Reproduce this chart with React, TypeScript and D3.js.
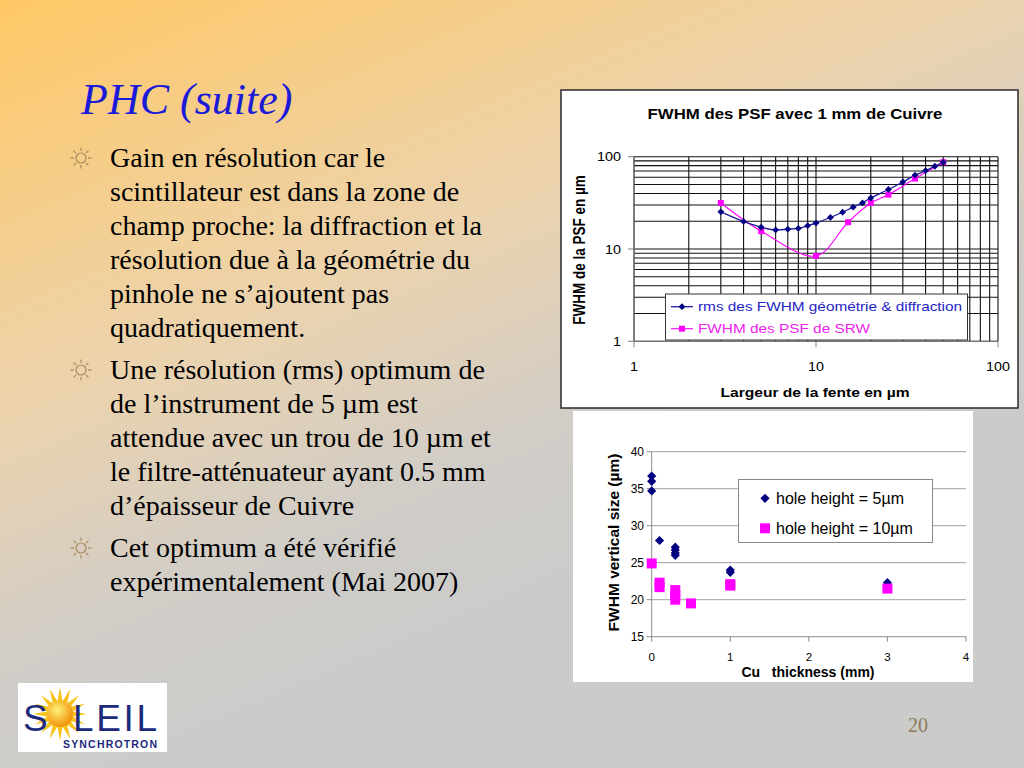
import React from 'react';
import * as d3 from 'd3';

// ---- slide text ----
const slideTitle = 'PHC (suite)';
const bulletLines = [
  ['Gain en résolution car le', 'scintillateur est dans la zone de', 'champ proche: la diffraction et la', 'résolution due à la géométrie du', 'pinhole ne s’ajoutent pas', 'quadratiquement.'],
  ['Une résolution (rms) optimum de', 'de l’instrument de 5 µm est', 'attendue avec un trou de 10 µm et', 'le filtre-atténuateur ayant 0.5 mm', 'd’épaisseur de Cuivre'],
  ['Cet optimum a été vérifié', 'expérimentalement (Mai 2007)'],
];

// ---- chart 1: FWHM des PSF vs largeur de fente (log-log) ----
const slitWidths = [3, 4, 5, 6, 7, 8, 9, 10, 12, 14, 16, 18, 20, 25, 30, 35, 40, 45, 50];
const rmsFwhm = [25.3, 19.9, 17.2, 16.1, 16.4, 16.7, 17.9, 19.1, 22.0, 25.0, 28.4, 31.6, 35.7, 44.1, 53.2, 63.0, 70.5, 78.8, 86.9];
const srwWidths = [3, 5, 10, 15, 20, 25, 35, 50];
const srwFwhm = [31.5, 15.6, 8.4, 19.5, 31.5, 38.8, 58.0, 87.2];
const logTicks = [1, 10, 100];

// ---- chart 2: FWHM vertical size vs Cu thickness ----
const cuThk5 = [0, 0, 0, 0.1, 0.3, 0.3, 0.3, 0.3, 1, 1, 3];
const fwhm5 = [36.7, 36.0, 34.7, 28.0, 27.1, 26.7, 26.3, 26.0, 24.0, 23.7, 22.3];
const cuThk10 = [0, 0.1, 0.1, 0.3, 0.3, 0.3, 0.5, 1, 1, 3];
const fwhm10 = [24.9, 22.3, 21.7, 21.3, 20.6, 20.0, 19.5, 22.1, 21.9, 21.5];
const thkTicks = [0, 1, 2, 3, 4];
const sizeTicks = [15, 20, 25, 30, 35, 40];

const ARIAL = '"Liberation Sans", Arial, sans-serif';
const TIMES = '"Liberation Serif", "Times New Roman", serif';
const BLUE = '#000080';
const PINK = '#ff00ff';
const SX = 1.2; // chart 1 picture is stretched horizontally

const diamond = (x: number, y: number, r: number) => `M${x},${y - r}L${x + r},${y}L${x},${y + r}L${x - r},${y}Z`;

const SunBullet = ({ cx, cy }: { cx: number; cy: number }) => (
  <g stroke="#a88a60" strokeWidth={1.2} fill="none">
    <circle cx={cx} cy={cy} r={5} />
    {d3.range(8).map(i => {
      const a = (i * Math.PI) / 4;
      return <line key={i} x1={cx + 7 * Math.cos(a)} y1={cy + 7 * Math.sin(a)} x2={cx + 10.5 * Math.cos(a)} y2={cy + 10.5 * Math.sin(a)} />;
    })}
  </g>
);

const St = ({ x, y, size, bold, anchor = 'start', fill = '#000', children }: any) => (
  <text transform={`translate(${x},${y}) scale(${SX},1)`} fontFamily={ARIAL} fontSize={size} fontWeight={bold ? 'bold' : 'normal'} textAnchor={anchor} fill={fill}>
    {children}
  </text>
);

const PsfChart = () => {
  const x = d3.scaleLog().domain([1, 100]).range([634, 998]);
  const y = d3.scaleLog().domain([1, 100]).range([341.3, 156.7]);
  const grid = x.ticks();
  const line = d3.line<[number, number]>().x(d => x(d[0])).y(d => y(d[1])).curve(d3.curveCatmullRom);
  const rms = slitWidths.map((w, i) => [w, rmsFwhm[i]] as [number, number]);
  const srw = srwWidths.map((w, i) => [w, srwFwhm[i]] as [number, number]);
  const [x0, x1] = x.range();
  const [y0, y1] = y.range();
  return (
    <g>
      <rect x={561} y={90} width={457} height={318} fill="#fff" stroke="#2a2a2a" strokeWidth={1.5} />
      <St x={795} y={119} size={14} bold anchor="middle">FWHM des PSF avec 1 mm de Cuivre</St>
      {grid.map(t => (
        <line key={'v' + t} x1={x(t)} x2={x(t)} y1={y1} y2={y0} stroke="#111" strokeWidth={1.1} />
      ))}
      {y.ticks().map(t => (
        <line key={'h' + t} x1={x0} x2={x1} y1={y(t)} y2={y(t)} stroke="#111" strokeWidth={1.1} />
      ))}
      <line x1={x0} x2={x0} y1={y1} y2={y0} stroke="#808080" />
      <line x1={x0} x2={x1} y1={y0} y2={y0} stroke="#808080" />
      {logTicks.map(t => (
        <g key={'t' + t}>
          <line x1={x0 - 6} x2={x0} y1={y(t)} y2={y(t)} stroke="#808080" />
          <line x1={x(t)} x2={x(t)} y1={y0} y2={y0 + 6} stroke="#808080" />
          <St x={x0 - 13} y={y(t) + 4.5} size={12} anchor="end">{t}</St>
          <St x={x(t)} y={370.5} size={12} anchor="middle">{t}</St>
        </g>
      ))}
      <path d={line(srw) || ''} fill="none" stroke={PINK} strokeWidth={1.1} />
      <path d={line(rms) || ''} fill="none" stroke="#1c1c9a" strokeWidth={1.3} />
      {srw.map((d, i) => (
        <rect key={'s' + i} x={x(d[0]) - 3} y={y(d[1]) - 3} width={6} height={6} fill={PINK} />
      ))}
      {rms.map((d, i) => (
        <path key={'r' + i} d={diamond(x(d[0]), y(d[1]), 3.4)} fill={BLUE} />
      ))}
      <St x={815} y={397} size={13} bold anchor="middle">Largeur de la fente en µm</St>
      <text transform="translate(585,250) rotate(-90) scale(1,1.2)" fontFamily={ARIAL} fontSize={13.5} fontWeight="bold" textAnchor="middle">
        FWHM de la PSF en µm
      </text>
      <rect x={665.5} y={294} width={302} height={46} fill="#fff" stroke="#333" strokeWidth={1} />
      <line x1={671} x2={693} y1={306.7} y2={306.7} stroke="#1c1c9a" strokeWidth={1.3} />
      <path d={diamond(682, 306.7, 3.4)} fill={BLUE} />
      <St x={698} y={311.2} size={12.8} fill="#2424c4">rms des FWHM géométrie &amp; diffraction</St>
      <line x1={671} x2={693} y1={328.7} y2={328.7} stroke={PINK} strokeWidth={1.1} />
      <rect x={679} y={325.7} width={6} height={6} fill={PINK} />
      <St x={698} y={333.2} size={12.8} fill="#ee22ee">FWHM des PSF de SRW</St>
    </g>
  );
};

const CuChart = () => {
  const x = d3.scaleLinear().domain([0, 4]).range([651.7, 966]);
  const y = d3.scaleLinear().domain([15, 40]).range([636.7, 451.7]);
  const [x0, x1] = x.range();
  const [y0, y1] = y.range();
  return (
    <g>
      <rect x={573} y={411} width={400} height={271} fill="#fff" />
      {sizeTicks.map(t => (
        <g key={'y' + t}>
          {t > 15 && <line x1={x0} x2={x1} y1={y(t)} y2={y(t)} stroke="#a0a0a0" />}
          <line x1={x0 - 5} x2={x0} y1={y(t)} y2={y(t)} stroke="#8c8c8c" />
          <text x={644} y={y(t) + 4} fontFamily={ARIAL} fontSize={12} textAnchor="end">{t}</text>
        </g>
      ))}
      {thkTicks.map(t => (
        <g key={'x' + t}>
          <line x1={x(t)} x2={x(t)} y1={y0} y2={y0 + 5} stroke="#8c8c8c" />
          <text x={x(t)} y={660.5} fontFamily={ARIAL} fontSize={11.5} textAnchor="middle">{t}</text>
        </g>
      ))}
      <line x1={x0} x2={x0} y1={y1} y2={y0} stroke="#8c8c8c" />
      <line x1={x0} x2={x1} y1={y0} y2={y0} stroke="#8c8c8c" />
      {cuThk5.map((t, i) => (
        <path key={'d' + i} d={diamond(x(t), y(fwhm5[i]), 4.6)} fill={BLUE} />
      ))}
      {cuThk10.map((t, i) => (
        <rect key={'q' + i} x={x(t) - 5} y={y(fwhm10[i]) - 5} width={10} height={10} fill={PINK} />
      ))}
      <text x={808} y={676.5} fontFamily={ARIAL} fontSize={14} fontWeight="bold" textAnchor="middle" style={{ whiteSpace: 'pre' }}>
        {'Cu   thickness (mm)'}
      </text>
      <text transform="translate(619,542.5) rotate(-90)" fontFamily={ARIAL} fontSize={15.5} fontWeight="bold" textAnchor="middle">
        FWHM vertical size (µm)
      </text>
      <rect x={738.5} y={479.5} width={194} height={63} fill="#fff" stroke="#888" />
      <path d={diamond(765, 498.3, 4.6)} fill={BLUE} />
      <text x={776} y={504} fontFamily={ARIAL} fontSize={16}>hole height = 5µm</text>
      <rect x={760} y={523.3} width={10} height={10} fill={PINK} />
      <text x={776} y={534} fontFamily={ARIAL} fontSize={16}>hole height = 10µm</text>
    </g>
  );
};

const Logo = () => {
  const rays = d3.range(32).map(i => {
    const a = (i * Math.PI) / 16 - Math.PI / 2;
    const r = i % 2 === 0 ? 27 : 13;
    return [60 + r * Math.cos(a), 714 + r * Math.sin(a)];
  });
  return (
    <g>
      <rect x={18} y={683} width={149} height={69} fill="#fff" />
      <polygon points={rays.map(p => p.join(',')).join(' ')} fill="#f8c21c" />
      <circle cx={60} cy={714} r={13} fill="url(#sunGrad)" />
      <text x={23} y={731} fontFamily={ARIAL} fontSize={37} fill="#1c2a7c">S</text>
      <text x={73} y={731} fontFamily={ARIAL} fontSize={37} fill="#1c2a7c" textLength={84}>LEIL</text>
      <text x={63} y={748} fontFamily={ARIAL} fontSize={10.5} fontWeight="bold" fill="#1c2a7c" textLength={94}>SYNCHROTRON</text>
    </g>
  );
};

export default function App() {
  let lineY = 167;
  const rows: { text: string; y: number; bullet: boolean }[] = [];
  bulletLines.forEach((para, p) => {
    if (p > 0) lineY += 8;
    para.forEach((t, i) => {
      rows.push({ text: t, y: lineY, bullet: i === 0 });
      lineY += 34;
    });
  });
  return (
    <svg width={1024} height={768} style={{ position: 'absolute', left: 0, top: 0 }}>
      <defs>
        <linearGradient id="bg" gradientUnits="userSpaceOnUse" x1={0} y1={0} x2={300} y2={700}>
          <stop offset={0} stopColor="#ffc865" />
          <stop offset={0.5} stopColor="#ecd3ad" />
          <stop offset={0.8} stopColor="#d1cdc7" />
          <stop offset={1} stopColor="#cbcbca" />
        </linearGradient>
        <radialGradient id="sunGrad" cx="0.4" cy="0.35" r="0.7">
          <stop offset={0} stopColor="#fff27a" />
          <stop offset={1} stopColor="#f08a00" />
        </radialGradient>
      </defs>
      <rect width={1024} height={768} fill="url(#bg)" />
      <text x={81} y={114} fontFamily={TIMES} fontSize={44} fontStyle="italic" fill="#1a1ad8">{slideTitle}</text>
      {rows.map((r, i) => (
        <g key={i}>
          {r.bullet && <SunBullet cx={81} cy={r.y - 9} />}
          <text x={110} y={r.y} fontFamily={TIMES} fontSize={28} fill="#000">{r.text}</text>
        </g>
      ))}
      <PsfChart />
      <CuChart />
      <Logo />
      <text x={918} y={732} fontFamily={TIMES} fontSize={20} fill="#8c7b5c" textAnchor="middle">20</text>
    </svg>
  );
}
